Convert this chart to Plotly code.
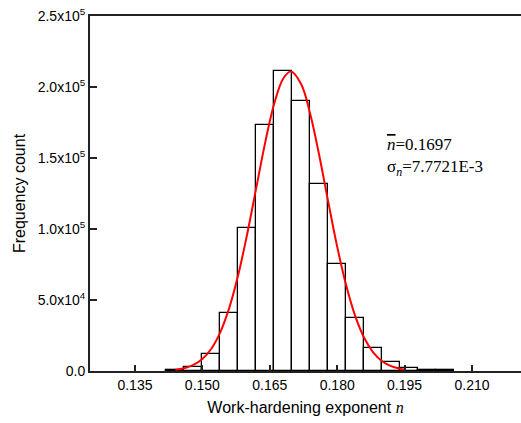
import plotly.graph_objects as go

# histogram of the work-hardening exponent, bin width 0.004
bin_centers = [0.144, 0.148, 0.152, 0.156, 0.160, 0.164, 0.168, 0.172,
               0.176, 0.180, 0.184, 0.188, 0.192, 0.196, 0.200, 0.204]
counts = [900, 3000, 12000, 41000, 100500, 173000, 211300, 190400,
          131900, 75400, 37100, 16000, 6500, 2300, 1000, 400]
bin_width = 0.004

# fitted normal curve
fit_x = [0.1440, 0.1460, 0.1480, 0.1500, 0.1520, 0.1540, 0.1560, 0.1580,
         0.1600, 0.1620, 0.1640, 0.1660, 0.1680, 0.1697, 0.1720, 0.1740,
         0.1760, 0.1780, 0.1800, 0.1820, 0.1840, 0.1860, 0.1880, 0.1900,
         0.1920, 0.1940, 0.1950]
fit_y = [900, 2000, 4300, 8500, 15700, 27400, 44600, 67900,
         96800, 129100, 161200, 188400, 206000, 211000, 202000, 181000,
         151900, 119300, 87600, 60300, 38800, 23400, 13200, 6900,
         3400, 1600, 1000]

x_ticks = [0.135, 0.150, 0.165, 0.180, 0.195, 0.210]
y_ticks = [0, 50000, 100000, 150000, 200000, 250000]
y_ticklabels = ["0.0", "5.0x10<sup>4</sup>", "1.0x10<sup>5</sup>",
                "1.5x10<sup>5</sup>", "2.0x10<sup>5</sup>", "2.5x10<sup>5</sup>"]

mean_n = "0.1697"
sigma_n = "7.7721E-3"

fig = go.Figure()

fig.add_trace(go.Bar(
    x=bin_centers, y=counts, width=bin_width,
    marker=dict(color="white", line=dict(color="black", width=1.3)),
    showlegend=False,
))

fig.add_trace(go.Scatter(
    x=fit_x, y=fit_y, mode="lines",
    line=dict(color="red", width=2, shape="spline"),
    showlegend=False,
))

fig.add_annotation(
    x=0.1906, y=151000, xref="x", yref="y", xanchor="left", yanchor="middle",
    showarrow=False, align="left",
    text=("<i><span style='text-decoration:overline'>n</span></i>=" + mean_n
          + "<br>σ<sub><i>n</i></sub>=" + sigma_n),
    font=dict(family="Liberation Serif", size=17, color="black"),
)

fig.update_layout(
    width=521, height=423,
    margin=dict(l=90, r=0, t=16, b=52),
    plot_bgcolor="white", paper_bgcolor="white",
    font=dict(family="Liberation Sans", size=14, color="black"),
    bargap=0,
)

fig.update_xaxes(
    range=[0.125, 0.2209], tickvals=x_ticks, ticktext=[f"{v:.3f}" for v in x_ticks],
    ticks="inside", ticklen=6, tickwidth=1.5, tickcolor="#222",
    showline=True, linecolor="#222", linewidth=2, mirror=True,
    showgrid=False, zeroline=False, automargin=False,
    title=dict(text="Work-hardening exponent <span style='font-family:Liberation Serif'><i>n</i></span>",
               font=dict(size=16), standoff=10),
)

fig.update_yaxes(
    range=[0, 250000], tickvals=y_ticks, ticktext=y_ticklabels,
    ticks="inside", ticklen=7, tickwidth=1.5, tickcolor="#222",
    showline=True, linecolor="#222", linewidth=2,
    showgrid=False, zeroline=False, automargin=False,
    title=dict(text="Frequency count", font=dict(size=16), standoff=8),
)

# drop the browser's default body margin so the figure sits at the window corner
fig.write_html("out.html", config={"displayModeBar": False},
               post_script="document.body.style.margin='0';")
